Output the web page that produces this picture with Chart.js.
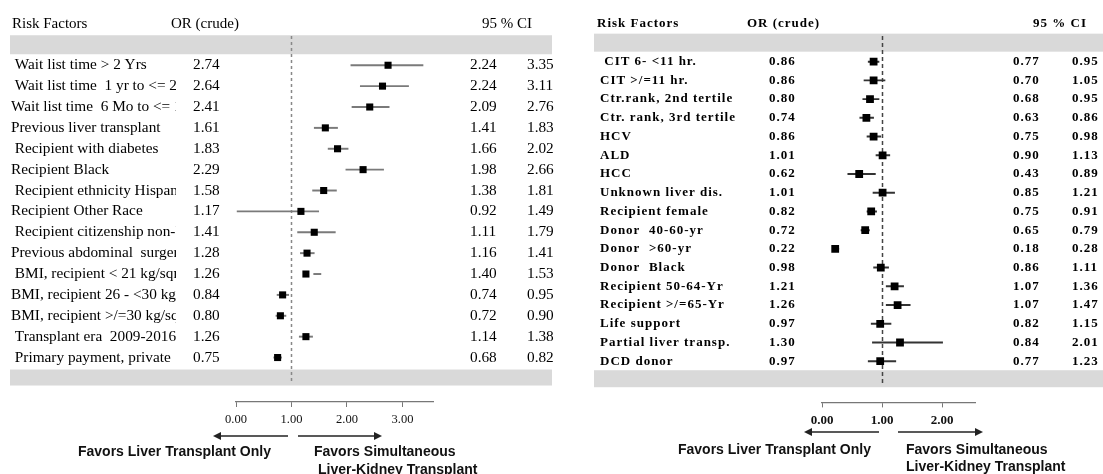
<!DOCTYPE html>
<html>
<head>
<meta charset="utf-8">
<script src="https://cdn.jsdelivr.net/npm/chart.js@4.4.1/dist/chart.umd.min.js"></script>
<style>
  html, body { margin: 0; padding: 0; background: #fff; }
  #wrap { position: relative; width: 1103px; height: 474px; overflow: hidden; }
  canvas { position: absolute; top: 0; }
  #left { left: 0; }
  #right { left: 560px; }
</style>
</head>
<body>
<div id="wrap">
  <canvas id="left" width="560" height="474"></canvas>
  <canvas id="right" width="543" height="474"></canvas>
</div>
<script>
// ---- left panel ----
const leftFactors = [
  ' Wait list time > 2 Yrs',
  ' Wait list time  1 yr to <= 2 yrs',
  'Wait list time  6 Mo to <= 1 Yr',
  'Previous liver transplant',
  ' Recipient with diabetes',
  'Recipient Black',
  ' Recipient ethnicity Hispanic',
  'Recipient Other Race',
  ' Recipient citizenship non-US',
  'Previous abdominal  surgery',
  ' BMI, recipient < 21 kg/sqm',
  'BMI, recipient 26 - <30 kg/sqm',
  'BMI, recipient >/=30 kg/sqm',
  ' Transplant era  2009-2016',
  ' Primary payment, private'
];
const leftOR   = [2.74, 2.64, 2.41, 1.61, 1.83, 2.29, 1.58, 1.17, 1.41, 1.28, 1.26, 0.84, 0.80, 1.26, 0.75];
const leftLow  = [2.24, 2.24, 2.09, 1.41, 1.66, 1.98, 1.38, 0.92, 1.11, 1.16, 1.40, 0.74, 0.72, 1.14, 0.68];
const leftHigh = [3.35, 3.11, 2.76, 1.83, 2.02, 2.66, 1.81, 1.49, 1.79, 1.41, 1.53, 0.95, 0.90, 1.38, 0.82];
// whiskers as drawn in the figure (a couple don't match the printed CI)
const leftBarLow  = [2.07, 2.24, 2.09, 1.41, 1.66, 1.98, 1.38, 0.02, 1.11, 1.16, 1.40, 0.74, 0.72, 1.14, 0.68];
const leftBarHigh = [3.37, 3.11, 2.76, 1.83, 2.02, 2.66, 1.81, 1.49, 1.79, 1.41, 1.53, 0.95, 0.90, 1.38, 0.82];

// ---- right panel ----
const rightFactors = [
  ' CIT 6- <11 hr.',
  'CIT >/=11 hr.',
  'Ctr.rank, 2nd tertile',
  'Ctr. rank, 3rd tertile',
  'HCV',
  'ALD',
  'HCC',
  'Unknown liver dis.',
  'Recipient female',
  'Donor  40-60-yr',
  'Donor  >60-yr',
  'Donor  Black',
  'Recipient 50-64-Yr',
  'Recipient >/=65-Yr',
  'Life support',
  'Partial liver transp.',
  'DCD donor'
];
const rightOR   = [0.86, 0.86, 0.80, 0.74, 0.86, 1.01, 0.62, 1.01, 0.82, 0.72, 0.22, 0.98, 1.21, 1.26, 0.97, 1.30, 0.97];
const rightLow  = [0.77, 0.70, 0.68, 0.63, 0.75, 0.90, 0.43, 0.85, 0.75, 0.65, 0.18, 0.86, 1.07, 1.07, 0.82, 0.84, 0.77];
const rightHigh = [0.95, 1.05, 0.95, 0.86, 0.98, 1.13, 0.89, 1.21, 0.91, 0.79, 0.28, 1.11, 1.36, 1.47, 1.15, 2.01, 1.23];

const fmt = v => v.toFixed(2);

function arrow(ctx, x0, x1, y) {
  const dir = Math.sign(x1 - x0);
  ctx.beginPath();
  ctx.moveTo(x0, y);
  ctx.lineTo(x1 - dir * 7, y);
  ctx.stroke();
  ctx.beginPath();
  ctx.moveTo(x1, y);
  ctx.lineTo(x1 - dir * 8, y - 4);
  ctx.lineTo(x1 - dir * 8, y + 4);
  ctx.closePath();
  ctx.fill();
}

function tablePlugin(p) {
  return {
    id: 'table',
    beforeDatasetsDraw(chart) {
      const {ctx, scales: {x, y}} = chart;
      const yFirst = y.getPixelForValue(0);
      const yLast = y.getPixelForValue(p.factors.length - 1);
      ctx.save();
      ctx.fillStyle = '#d9d9d9';
      ctx.fillRect(p.bandX[0], yFirst - p.topBand[0], p.bandX[1] - p.bandX[0], p.topBand[1]);
      ctx.fillRect(p.bandX[0], yLast + p.botBand[0], p.bandX[1] - p.bandX[0], p.botBand[1]);
      // reference line at OR = 1
      const x1 = Math.round(x.getPixelForValue(1)) + 0.5;
      ctx.strokeStyle = p.dashColor;
      ctx.lineWidth = 1.5;
      ctx.setLineDash(p.dash);
      ctx.beginPath();
      ctx.moveTo(x1, p.dashY[0]);
      ctx.lineTo(x1, p.dashY[1]);
      ctx.stroke();
      ctx.restore();
    },
    afterDraw(chart) {
      const {ctx, scales: {y}} = chart;
      ctx.save();
      ctx.fillStyle = '#000';
      ctx.textBaseline = 'middle';
      ctx.textAlign = 'left';

      // header
      ctx.font = p.headFont;
      ctx.letterSpacing = p.spacing;
      const hy = y.getPixelForValue(0) - p.headOffset;
      ctx.fillText('Risk Factors', p.headX[0], hy);
      ctx.fillText('OR (crude)', p.headX[1], hy);
      ctx.fillText('95 % CI', p.headX[2], hy);

      // rows
      ctx.font = p.rowFont;
      p.factors.forEach((name, i) => {
        const ry = y.getPixelForValue(i);
        ctx.save();
        ctx.beginPath();
        ctx.rect(0, ry - 12, p.labelClip, 24);
        ctx.clip();
        ctx.fillText(name, p.colX[0], ry);
        ctx.restore();
        ctx.fillText(fmt(p.or[i]), p.colX[1], ry);
        ctx.fillText(fmt(p.low[i]), p.colX[2], ry);
        ctx.fillText(fmt(p.high[i]), p.colX[3], ry);
      });

      // direction arrows + captions
      ctx.letterSpacing = '0px';
      ctx.strokeStyle = '#222';
      ctx.fillStyle = '#222';
      ctx.lineWidth = 1.5;
      arrow(ctx, p.arrowL[0], p.arrowL[1], p.arrowY);
      arrow(ctx, p.arrowR[0], p.arrowR[1], p.arrowY);
      ctx.fillStyle = '#111';
      ctx.font = 'bold 14px "Liberation Sans", Arial, sans-serif';
      ctx.fillText('Favors Liver Transplant Only', p.capL[0], p.capL[1]);
      ctx.fillText('Favors Simultaneous', p.capR[0], p.capR[1]);
      ctx.fillText('Liver-Kidney Transplant', p.capR2[0], p.capR2[1]);
      ctx.restore();
    }
  };
}

function forest(id, p) {
  return new Chart(document.getElementById(id), {
    type: 'scatter',
    data: {
      datasets: [
        {
          type: 'scatter',
          data: p.or.map((v, i) => ({x: v, y: i})),
          pointStyle: 'rect',
          pointRadius: p.markerRadius,
          backgroundColor: '#000',
          borderWidth: 0,
          order: 0
        },
        {
          type: 'bar',
          indexAxis: 'y',
          data: p.barLow.map((lo, i) => ({x: [lo, p.barHigh[i]], y: i})),
          backgroundColor: p.whiskerColor,
          borderWidth: 0,
          barThickness: 1.3,
          order: 1
        }
      ]
    },
    options: {
      responsive: false,
      devicePixelRatio: 1,
      animation: false,
      events: [],
      layout: {padding: {left: p.pad[0], right: p.pad[1], top: 0, bottom: p.pad[2]}},
      scales: {
        x: {
          type: 'linear',
          min: 0,
          max: p.xMax,
          offset: false,
          grid: {drawOnChartArea: false, color: '#777', tickLength: 5, offset: false},
          border: {color: '#777', width: 1.2},
          ticks: {
            stepSize: 1,
            includeBounds: false,
            padding: 5,
            color: '#111',
            font: p.tickFont,
            callback: v => fmt(v)
          }
        },
        y: {
          type: 'linear',
          reverse: true,
          offset: false,
          grid: {offset: false},
          min: p.yRange[0],
          max: p.yRange[1],
          display: false
        }
      },
      plugins: {legend: {display: false}, tooltip: {enabled: false}}
    },
    plugins: [tablePlugin(p)]
  });
}

forest('left', {
  factors: leftFactors, or: leftOR, low: leftLow, high: leftHigh,
  barLow: leftBarLow, barHigh: leftBarHigh,
  xMax: 3.55, pad: [236, 127, 42], yRange: [-2.886, 16.13],
  markerRadius: 5, whiskerColor: '#7a7a7a',
  tickFont: {family: '"Liberation Serif", serif', size: 12.5},
  headFont: '15px "Liberation Serif", serif',
  rowFont: '15.3px "Liberation Serif", serif',
  spacing: '0px',
  headX: [12, 171, 482], headOffset: 41,
  colX: [11, 193, 470, 527], labelClip: 176,
  bandX: [10, 552], topBand: [30, 19], botBand: [12, 16],
  dash: [3, 3], dashColor: '#888', dashY: [36, 384],
  arrowL: [288, 213], arrowR: [298, 382], arrowY: 436,
  capL: [78, 452], capR: [314, 452], capR2: [318, 470]
});

forest('right', {
  factors: rightFactors, or: rightOR, low: rightLow, high: rightHigh,
  barLow: rightLow, barHigh: rightHigh,
  xMax: 2.55, pad: [262, 128, 41], yRange: [-3.0, 18.2],
  markerRadius: 5.5, whiskerColor: '#333',
  tickFont: {family: '"Liberation Serif", serif', size: 13, weight: 'bold'},
  headFont: 'bold 13px "Liberation Serif", serif',
  rowFont: 'bold 13px "Liberation Serif", serif',
  spacing: '1px',
  headX: [37, 187, 473], headOffset: 38,
  colX: [40, 209, 453, 512], labelClip: 200,
  bandX: [34, 543], topBand: [28, 18], botBand: [9, 17],
  dash: [4, 3], dashColor: '#444', dashY: [36, 386],
  arrowL: [319, 244], arrowR: [338, 423], arrowY: 432,
  capL: [118, 450], capR: [346, 450], capR2: [346, 467]
});
</script>
</body>
</html>
